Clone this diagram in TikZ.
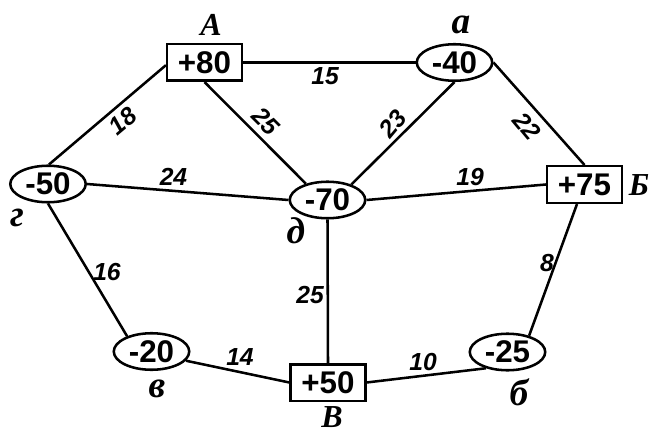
\documentclass[tikz,border=0pt]{standalone}
\usepackage{fontspec}
\setmainfont{Liberation Serif}
\newfontfamily\arialf{Liberation Sans}
\usetikzlibrary{shapes.geometric}
\begin{document}
\begin{tikzpicture}[x=0.75pt,y=-0.75pt,
  lw/.style={line width=1.9pt},
  boxn/.style={draw,lw,rectangle,inner sep=0pt,minimum width=56pt,minimum height=27.4pt,font=\arialf\bfseries\fontsize{23.5}{23.5}\selectfont},
  elln/.style={draw,lw,ellipse,inner sep=0pt,minimum width=56.6pt,minimum height=27.4pt,font=\arialf\bfseries\fontsize{23.5}{23.5}\selectfont},
  wt/.style={font=\arialf\bfseries\itshape\fontsize{18.5}{18.5}\selectfont,inner sep=0pt},
  capl/.style={font=\bfseries\itshape\fontsize{24}{24}\selectfont,inner sep=0pt},
  lowl/.style={font=\bfseries\itshape\fontsize{28}{28}\selectfont,inner sep=0pt},
  con/.style={lw}
]
\useasboundingbox (0,0) rectangle (649,431);
% vertices
\node[boxn] (A)  at (204.5,62.5) {+80};
\node[elln] (a)  at (454.5,62.5) {-40};
\node[boxn] (BB) at (584.5,184.5) {+75};
\node[elln] (g)  at (48,184) {-50};
\node[elln] (d)  at (327.5,200) {-70};
\node[elln] (v)  at (151.5,351.5) {-20};
\node[boxn] (B)  at (328,382.5) {+50};
\node[elln] (b)  at (507.5,352) {-25};
% letters
\node[capl] (lA) at (211,25) {А};
\node[lowl] (la) at (461,25) {а};
\node[capl] (lBB) at (639,185) {Б};
\node[lowl] (lg) at (17,218) {г};
\node[lowl] (ld) at (296,231) {д};
\node[lowl] (lv) at (157,389) {в};
\node[capl] (lB) at (332,417) {В};
\node[lowl] (lb) at (519,392) {б};
% connectors
\draw[con] (A.east) -- (a.west);
\draw[con] (A.184) -- (g.87);
\draw[con] (A.south) -- (d.143);
\draw[con] (g.east) -- (d.west);
\draw[con] (a.south) -- (d.33);
\draw[con] (a.east) -- (BB.north);
\draw[con] (d.east) -- (BB.west);
\draw[con] (g.south) -- (v.148);
\draw[con] (d.south) -- (B.north);
\draw[con] (v.-15) -- (B.west);
\draw[con] (B.east) -- (b.217);
\draw[con] (BB.249) -- (b.37);
% weights
\node[wt] (w15) at (325,76) {15};
\node[wt,rotate=40] (w18) at (123,121) {18};
\node[wt,rotate=-45] (w25a) at (266,121) {25};
\node[wt] (w24) at (173.5,176.5) {24};
\node[wt,rotate=50] (w23) at (393,124) {23};
\node[wt,rotate=-50] (w22) at (527,126) {22};
\node[wt] (w19) at (470,177) {19};
\node[wt] (w16) at (107,272) {16};
\node[wt] (w25b) at (310,295) {25};
\node[wt] (w14) at (240,357) {14};
\node[wt] (w10) at (423,362) {10};
\node[wt] (w8) at (547,263) {8};
\end{tikzpicture}
\end{document}
